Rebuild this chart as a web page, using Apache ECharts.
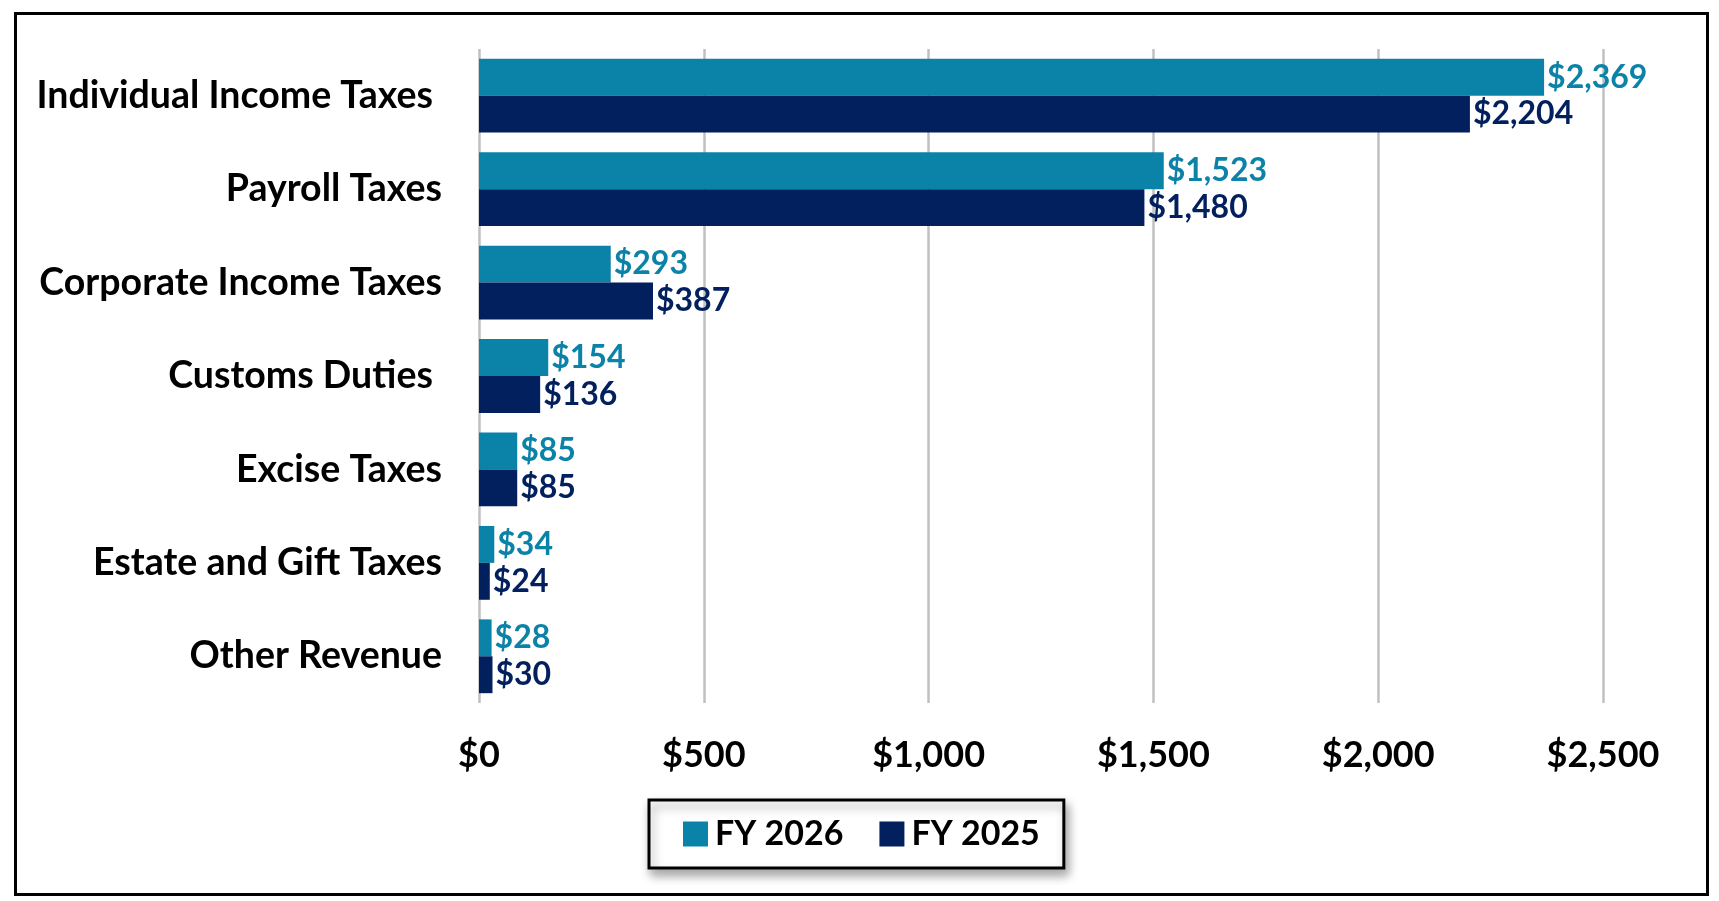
<!DOCTYPE html>
<html lang="en">
<head>
    <meta charset="UTF-8">
    <title>Revenue by Source</title>
    <style>
        html, body { margin: 0; padding: 0; background: #fff; }
        #main { width: 1719px; height: 901px; }
    </style>
</head>
<body>
<div id="main"></div>
<script src="https://cdn.jsdelivr.net/npm/echarts@6/dist/echarts.min.js"></script>
<script>
    // categories, top to bottom as in the picture (two of them carry a trailing space in the original)
    const categories = ['Individual Income Taxes ', 'Payroll Taxes', 'Corporate Income Taxes',
        'Customs Duties ', 'Excise Taxes', 'Estate and Gift Taxes', 'Other Revenue'];
    const fy2026 = [2369, 1523, 293, 154, 85, 34, 28];
    const fy2025 = [2204, 1480, 387, 136, 85, 24, 30];
    const seriesNames = ['FY 2026', 'FY 2025'];
    const xTicks = [0, 500, 1000, 1500, 2000, 2500];

    const TEAL = '#0b82a8';
    const NAVY = '#021f5e';
    const FONT = 'Lato';

    // $1,234 style
    function money(v) {
        return '$' + Number(v).toLocaleString('en-US');
    }

    let myChart = echarts.init(document.getElementById('main'));

    let option = {
        backgroundColor: '#fff',
        animation: false,
        textStyle: {fontFamily: FONT, fontWeight: 'bold'},
        // outer frame
        graphic: [{
            type: 'rect',
            left: 13, top: 11,
            shape: {width: 1692, height: 881},
            style: {fill: 'none', stroke: '#000', lineWidth: 3},
            silent: true
        }],
        legend: {
            data: seriesNames,
            left: 649,
            top: 800,
            padding: [17, 24, 17, 34],
            itemWidth: 25,
            itemHeight: 25,
            itemGap: 36,
            icon: 'rect',
            borderColor: '#000',
            borderWidth: 3,
            backgroundColor: '#fff',
            shadowColor: 'rgba(0,0,0,0.35)',
            shadowBlur: 10,
            shadowOffsetX: 3,
            shadowOffsetY: 6,
            textStyle: {fontFamily: FONT, fontWeight: 'bold', fontSize: 34, color: '#000', padding: [0, 0, 0, 2]}
        },
        grid: {
            left: 479,
            right: 116,
            top: 49,
            bottom: 198,
            containLabel: false
        },
        xAxis: {
            type: 'value',
            min: xTicks[0],
            max: xTicks[xTicks.length - 1],
            interval: 500,
            axisLine: {show: false},
            axisTick: {show: false},
            splitLine: {lineStyle: {color: '#c0c0c0', width: 2.5}},
            axisLabel: {
                margin: 34,
                fontFamily: FONT, fontWeight: 'bold', fontSize: 36, color: '#000',
                formatter: v => money(v)
            }
        },
        yAxis: {
            type: 'category',
            inverse: true,
            data: categories,
            axisLine: {show: false},
            axisTick: {show: false},
            axisLabel: {
                margin: 37,
                fontFamily: FONT, fontWeight: 'bold', fontSize: 37.5, color: '#000'
            }
        },
        series: [
            {
                name: seriesNames[0],
                type: 'bar',
                data: fy2026,
                barGap: '0%',
                barCategoryGap: '21%',
                itemStyle: {color: TEAL},
                label: {
                    show: true,
                    position: 'right',
                    distance: 3,
                    color: TEAL,
                    fontFamily: FONT, fontWeight: 'bold', fontSize: 32,
                    formatter: p => money(p.value)
                }
            },
            {
                name: seriesNames[1],
                type: 'bar',
                data: fy2025,
                itemStyle: {color: NAVY},
                label: {
                    show: true,
                    position: 'right',
                    distance: 3,
                    color: NAVY,
                    fontFamily: FONT, fontWeight: 'bold', fontSize: 32,
                    formatter: p => money(p.value)
                }
            }
        ]
    };

    myChart.setOption(option);
</script>
</body>
</html>
